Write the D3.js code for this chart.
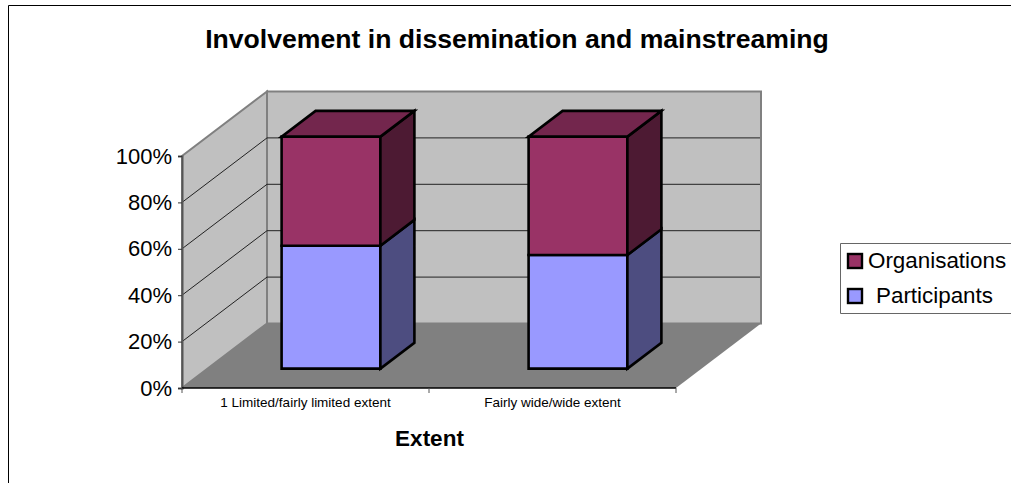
<!DOCTYPE html>
<html>
<head>
<meta charset="utf-8">
<script src="https://cdn.jsdelivr.net/npm/d3@7/dist/d3.min.js"></script>
<style>
html,body{margin:0;padding:0;background:#fff;overflow:hidden}
svg{display:block}
text{font-family:"Liberation Sans",Arial,sans-serif;fill:#000}
</style>
</head>
<body>
<svg id="chart" width="1011" height="483"></svg>
<script>
const categories = ["1 Limited/fairly limited extent", "Fairly wide/wide extent"];
const seriesNames = ["Participants", "Organisations"];
const participants = [53, 49];
const organisations = [47, 51];
const tickValues = [0, 20, 40, 60, 80, 100];
const chartTitle = "Involvement in dissemination and mainstreaming";
const xTitle = "Extent";
const faceColors = {
  Participants: {front: "#9999ff", side: "#4d4d80", top: "#6b6bb3"},
  Organisations: {front: "#993366", side: "#4d1a33", top: "#73264d"}
};

const svg = d3.select("#chart");
const frontLeft = 182, frontRight = 676, frontBase = 388, frontTop = 156;
const depthX = 85, depthY = -64.5;

const y = d3.scaleLinear().domain([0, 100]).range([frontBase, frontTop]);
const x = d3.scaleBand().domain(categories).range([frontLeft, frontRight]).paddingInner(0).paddingOuter(0);

// Oblique projection: value along the axis plus a depth fraction into the floor.
const px = (sx, d) => sx + depthX * d;
const py = (v, d) => y(v) + depthY * d;
const poly = (pts) => pts.map(p => p.join(",")).join(" ");

// Chart frame: only its top and left edges fall inside the page
svg.append("path").attr("d", "M8.5,483V5.5H1011").attr("fill", "none").attr("stroke", "#000").attr("stroke-width", 1);

// Side wall, back wall and floor
svg.append("polygon").attr("fill", "#c0c0c0").attr("stroke", "#808080").attr("stroke-width", 2)
  .attr("points", poly([[px(frontLeft,0),py(0,0)],[px(frontLeft,1),py(0,1)],[px(frontLeft,1),py(100,1)],[px(frontLeft,0),py(100,0)]]));
svg.append("polygon").attr("fill", "#c0c0c0").attr("stroke", "#808080").attr("stroke-width", 2)
  .attr("points", poly([[px(frontLeft,1),py(0,1)],[px(frontRight,1),py(0,1)],[px(frontRight,1),py(100,1)],[px(frontLeft,1),py(100,1)]]));
svg.append("polygon").attr("fill", "#808080")
  .attr("points", poly([[px(frontLeft,0),py(0,0)],[px(frontRight,0),py(0,0)],[px(frontRight,1),py(0,1)],[px(frontLeft,1),py(0,1)]]));

// Gridlines run across the side wall and then along the back wall
const grid = svg.append("g").attr("fill", "none").attr("stroke", "#222").attr("stroke-width", 1);
tickValues.filter(t => t > 0 && t < 100).forEach(t => {
  grid.append("polyline").attr("points", poly([[px(frontLeft,0),py(t,0)],[px(frontLeft,1),py(t,1)],[px(frontRight,1)-1,py(t,1)]]));
});

// Value axis drawn through d3.axisLeft
const yAxis = svg.append("g").attr("transform", `translate(${frontLeft},0)`)
  .call(d3.axisLeft(y).tickValues(tickValues).tickFormat(d => d + "%").tickSize(4).tickPadding(6));
yAxis.selectAll("text").attr("font-size", 22).attr("font-family", '"Liberation Sans",Arial,sans-serif');
yAxis.selectAll("line").attr("stroke", "#333").attr("stroke-width", 1);
yAxis.select(".domain").attr("stroke", "#555").attr("stroke-width", 2);

// Category axis drawn through d3.axisBottom
const xAxis = svg.append("g").attr("transform", `translate(0,${frontBase})`)
  .call(d3.axisBottom(x).tickValues(categories).tickSize(0).tickPadding(9).tickFormat(d => d));
xAxis.selectAll("text").attr("font-size", 13.5).attr("font-family", '"Liberation Sans",Arial,sans-serif');
xAxis.select(".domain").remove();
svg.append("line").attr("x1", frontLeft).attr("x2", frontRight).attr("y1", frontBase).attr("y2", frontBase).attr("stroke", "#000").attr("stroke-width", 1.5);
const edges = [frontLeft].concat(categories.map(c => x(c) + x.bandwidth()));
svg.append("g").selectAll("line").data(edges).join("line")
  .attr("x1", d => d).attr("x2", d => d).attr("y1", frontBase).attr("y2", frontBase + 5).attr("stroke", "#555");

// Stacked 3D columns
const barWidthShare = 0.4, depthNear = 0.3, depthFar = 0.7;
const bars = svg.append("g").attr("stroke", "#000").attr("stroke-width", 2.6).attr("stroke-linejoin", "miter");
categories.forEach((c, i) => {
  const l = x(c) + x.bandwidth() * (0.5 - barWidthShare / 2);
  const r = x(c) + x.bandwidth() * (0.5 + barWidthShare / 2);
  const stack = [
    {name: seriesNames[0], a: 0, b: participants[i]},
    {name: seriesNames[1], a: participants[i], b: participants[i] + organisations[i]}
  ];
  stack.forEach(s => {
    const col = faceColors[s.name];
    bars.append("polygon").attr("fill", col.front).attr("points", poly([
      [px(l,depthNear),py(s.a,depthNear)],[px(r,depthNear),py(s.a,depthNear)],
      [px(r,depthNear),py(s.b,depthNear)],[px(l,depthNear),py(s.b,depthNear)]]));
    bars.append("polygon").attr("fill", col.side).attr("points", poly([
      [px(r,depthNear),py(s.a,depthNear)],[px(r,depthFar),py(s.a,depthFar)],
      [px(r,depthFar),py(s.b,depthFar)],[px(r,depthNear),py(s.b,depthNear)]]));
  });
  const topS = stack[1], col = faceColors[topS.name];
  bars.append("polygon").attr("fill", col.top).attr("points", poly([
    [px(l,depthNear),py(topS.b,depthNear)],[px(r,depthNear),py(topS.b,depthNear)],
    [px(r,depthFar),py(topS.b,depthFar)],[px(l,depthFar),py(topS.b,depthFar)]]));
});

// Titles
svg.append("text").attr("x", 517).attr("y", 48).attr("text-anchor", "middle")
  .attr("font-size", 26.6).attr("font-weight", "bold").text(chartTitle);
svg.append("text").attr("x", 429.5).attr("y", 446).attr("text-anchor", "middle")
  .attr("font-size", 22.5).attr("font-weight", "bold").text(xTitle);

// Legend box runs off the right side of the page
const legend = svg.append("g");
legend.append("path").attr("d", "M1011,243.5H840.5V313.5H1011").attr("fill", "#fff").attr("stroke", "#666").attr("stroke-width", 1);
[[seriesNames[1], 868, 268], [seriesNames[0], 876, 303]].forEach(([name, tx, ty]) => {
  legend.append("rect").attr("x", 848).attr("y", ty - 14).attr("width", 14).attr("height", 14)
    .attr("fill", faceColors[name].front).attr("stroke", "#000").attr("stroke-width", 2.4);
  legend.append("text").attr("x", tx).attr("y", ty).attr("font-size", 22.4).text(name);
});
</script>
</body>
</html>
